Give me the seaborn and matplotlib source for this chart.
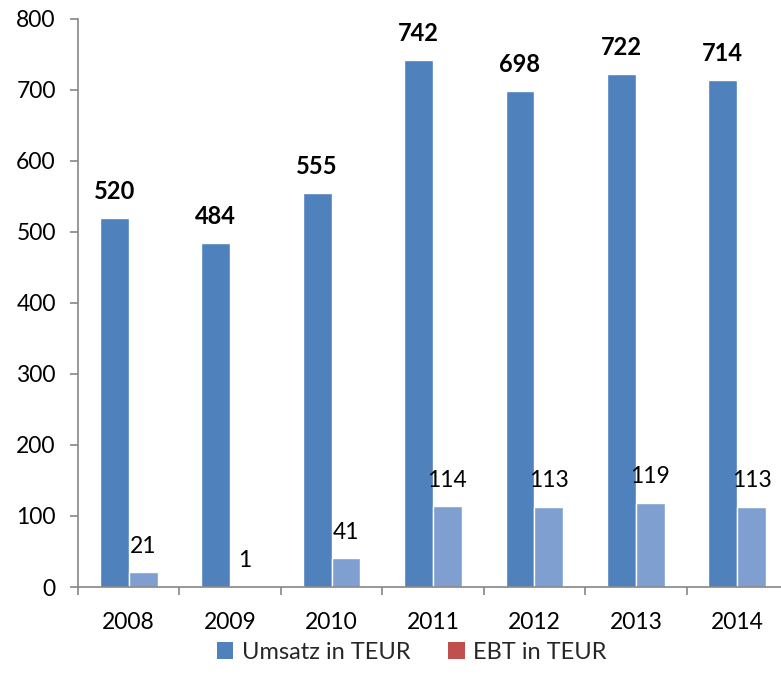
"""Umsatz und EBT (TEUR) 2008–2014 als gruppiertes Balkendiagramm."""

import matplotlib.pyplot as plt
import pandas as pd
import seaborn as sns
from matplotlib.patches import Patch

jahre = ["2008", "2009", "2010", "2011", "2012", "2013", "2014"]
umsatz = [520, 484, 555, 742, 698, 722, 714]
ebt = [21, 1, 41, 114, 113, 119, 113]

serien = ["Umsatz in TEUR", "EBT in TEUR"]
farben_balken = {"Umsatz in TEUR": "#4F81BD", "EBT in TEUR": "#7F9FD1"}
farben_legende = {"Umsatz in TEUR": "#4F81BD", "EBT in TEUR": "#C0504D"}

sns.set_theme(style="white")
plt.rcParams["font.family"] = ["Lato", "DejaVu Sans"]

df = pd.DataFrame({
    "Jahr": jahre * 2,
    "Wert": umsatz + ebt,
    "Serie": [serien[0]] * len(jahre) + [serien[1]] * len(jahre),
})

fig = plt.figure(figsize=(7.81, 6.88), dpi=100)
ax = fig.add_axes([0.0999, 0.1468, 0.909, 0.8256])

sns.barplot(
    data=df, x="Jahr", y="Wert", hue="Serie", hue_order=serien,
    palette=farben_balken, width=0.57, gap=0, saturation=1,
    legend=False, ax=ax,
)

ax.set_ylim(0, 800)
ax.set_xlim(-0.5, len(jahre) - 0.5)
ax.set_yticks(range(0, 801, 100))
ax.set_xlabel("")
ax.set_ylabel("")

achse = "#868686"
for s in ("top", "right"):
    ax.spines[s].set_visible(False)
for s in ("left", "bottom"):
    ax.spines[s].set_color(achse)
    ax.spines[s].set_linewidth(1.2)

ax.tick_params(axis="y", length=6, color=achse, width=1.2, labelsize=16.5,
               left=True, pad=10, labelcolor="black")
ax.tick_params(axis="x", which="major", length=0, labelsize=16.5, pad=18,
               labelcolor="black")
ax.set_xticks([i - 0.5 for i in range(len(jahre) + 1)], minor=True)
ax.tick_params(axis="x", which="minor", length=6, color=achse, width=1.2,
               bottom=True)

ax.bar_label(ax.containers[0], padding=11, fontsize=17, fontweight="bold",
             color="black")
ax.bar_label(ax.containers[1], padding=11, fontsize=16.5, color="black")

handles = [Patch(facecolor=farben_legende[s], edgecolor="none") for s in serien]
fig.legend(
    handles, serien, loc="center", bbox_to_anchor=(0.527, 0.052), ncol=2,
    frameon=False, fontsize=17, handlelength=0.7, handleheight=0.7,
    handletextpad=0.35, columnspacing=1.6,
)

fig.savefig("out.png", dpi=100)
